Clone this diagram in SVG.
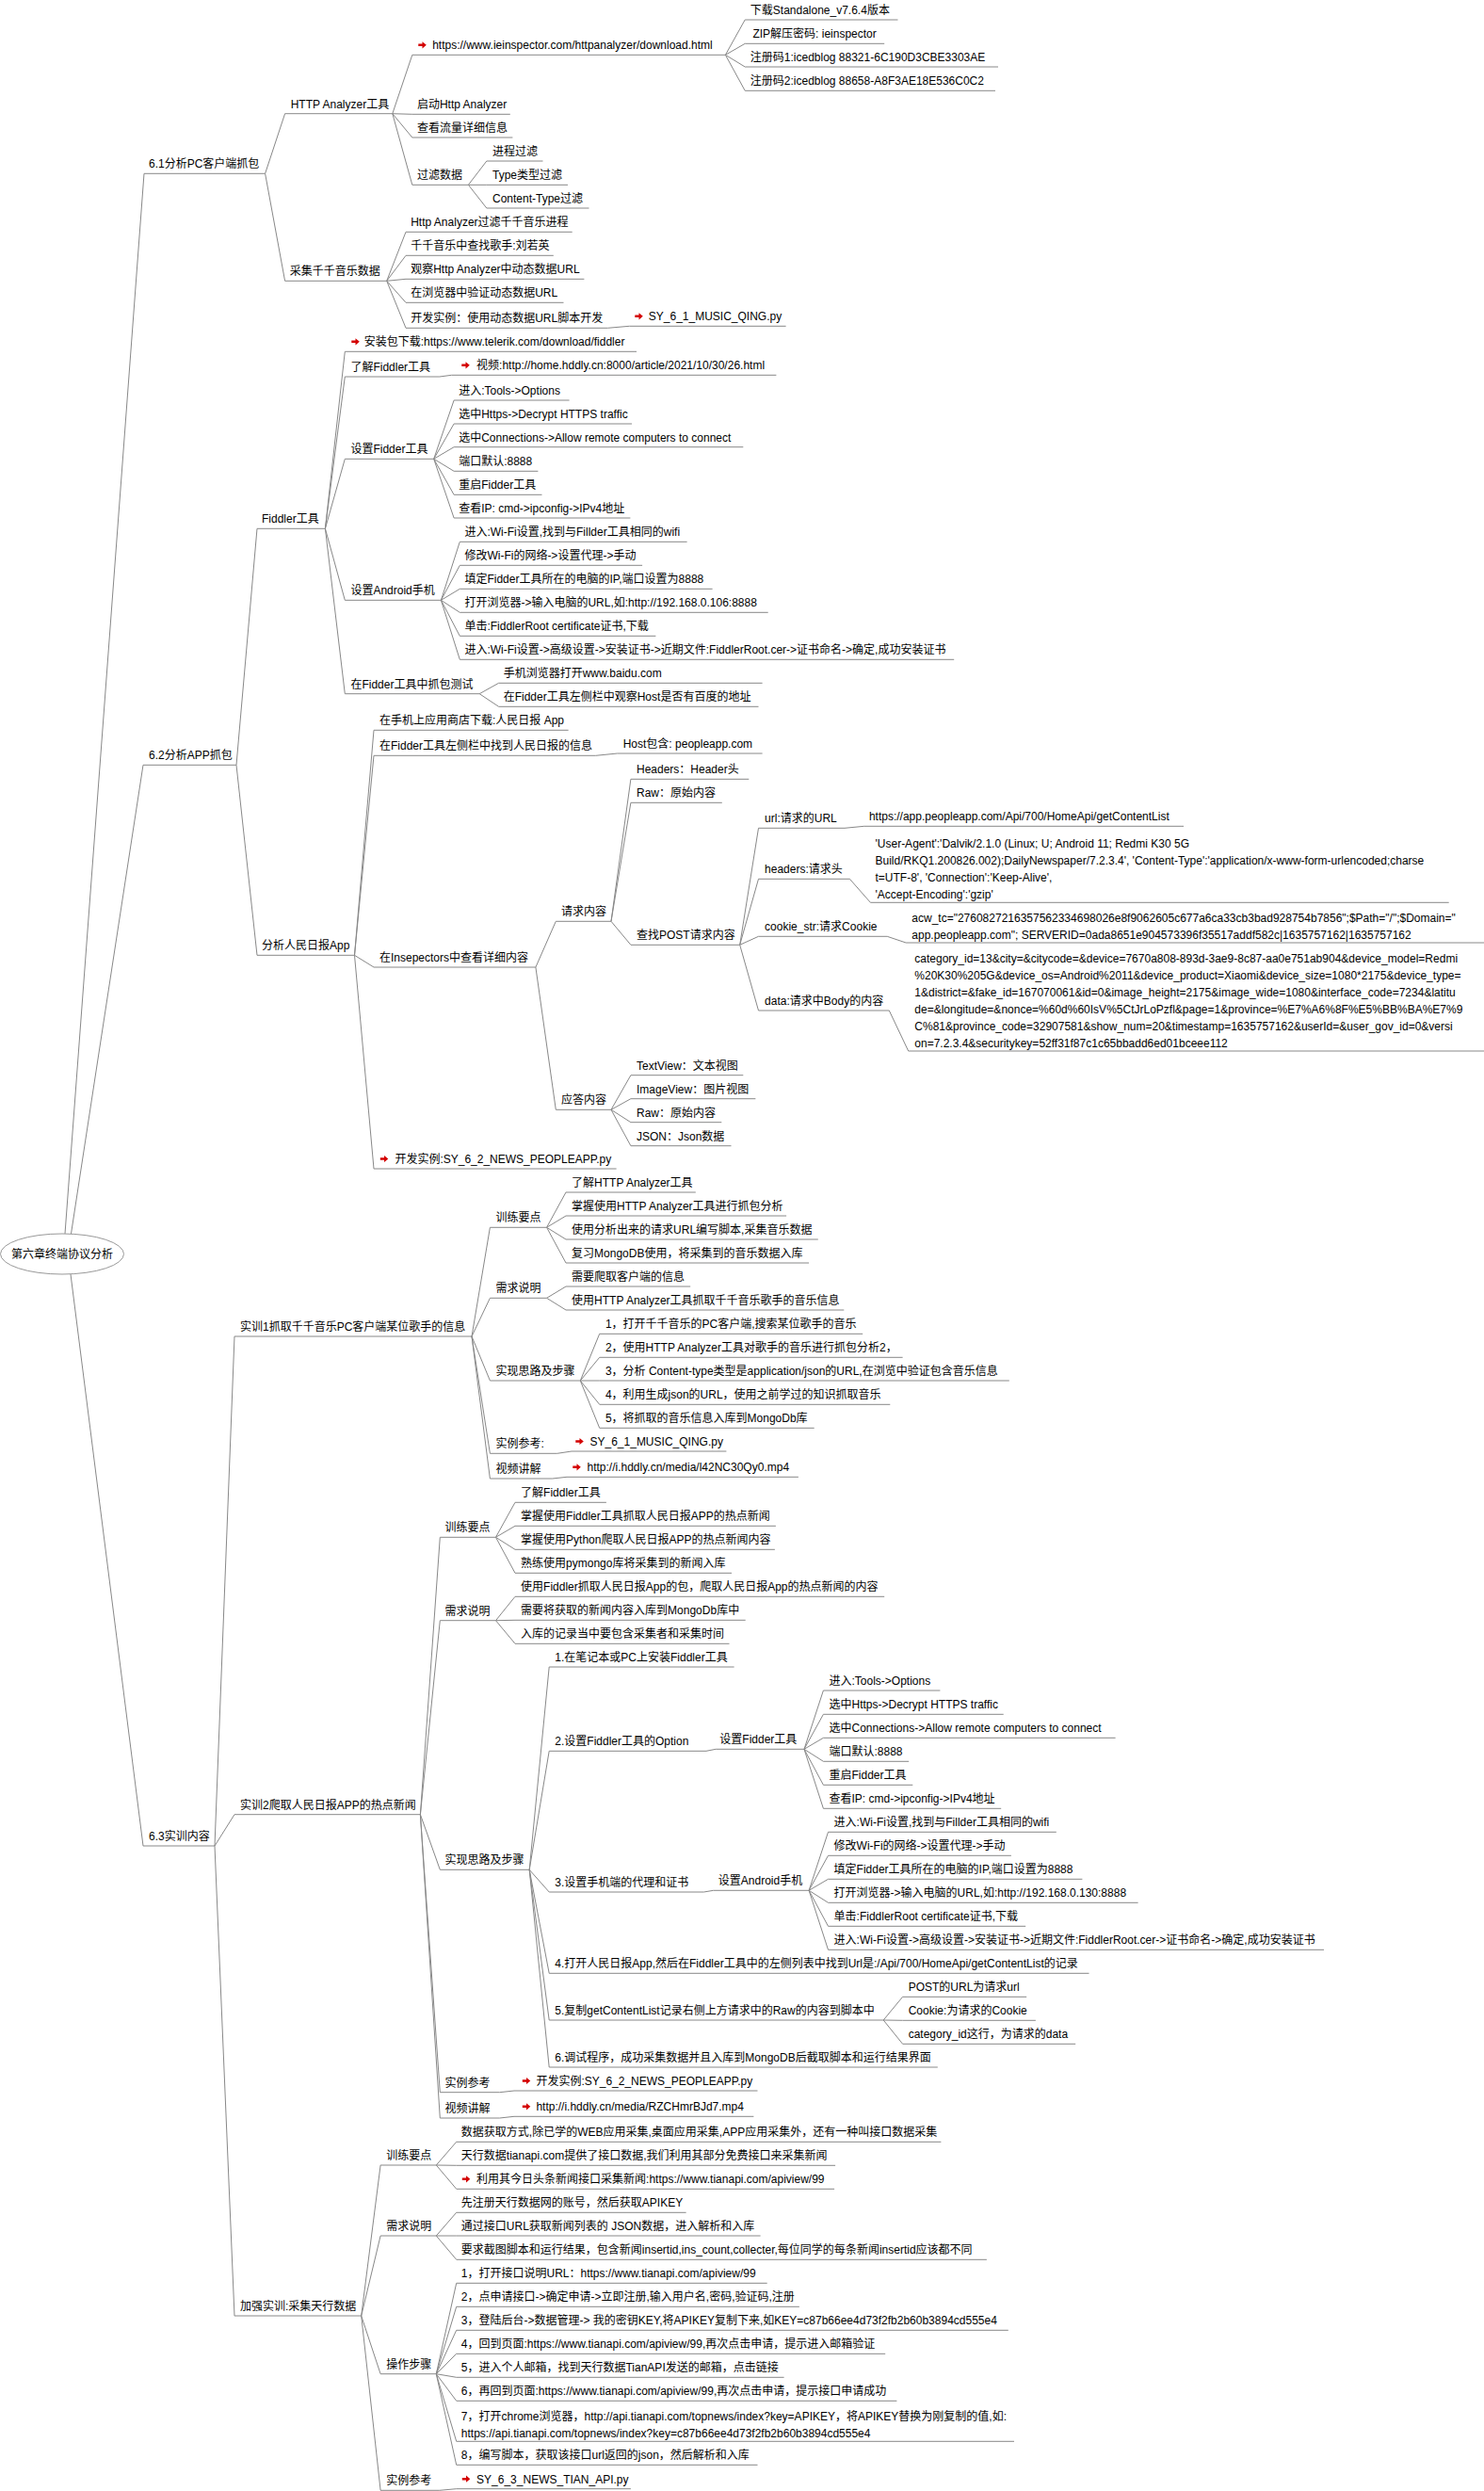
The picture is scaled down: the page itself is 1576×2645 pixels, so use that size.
<svg xmlns="http://www.w3.org/2000/svg" xmlns:xlink="http://www.w3.org/1999/xlink" width="1576" height="2645" viewBox="0 0 1576 2645">
<style>
.t{font-family:"Liberation Sans","Noto Sans CJK SC",sans-serif;font-size:12px;fill:#000}
.u{stroke:#888;stroke-width:1;fill:none}
.c{stroke:#888;stroke-width:1;fill:none}
</style>
<defs>
<path id="ar" d="M-4.2,-1.3H0V-3.6L4.3,0L0,3.6V1.3H-4.2Z" fill="#d40000"/>
</defs>
<rect width="1576" height="2645" fill="#fff"/>
<g id="connectors">
<path class="c" d="M69,1310L153,184.3M75.5,1310L152,812.3M75,1353L152,1960"/>
<path class="c" d="M281.6,184.3L302.6,120.7M281.6,184.3L302.6,298.3"/>
<path class="c" d="M416.8,120.7L437.8,58.3M416.8,120.7L437.8,121.3M416.8,120.7L437.8,146M416.8,120.7L437.8,196.3"/>
<path class="c" d="M770.4,58.3L791.2,21M770.4,58.3L791.2,46.3M770.4,58.3L791.2,71M770.4,58.3L791.2,96.3"/>
<path class="c" d="M497.4,196.3L516.8,171M497.4,196.3L516.8,196.3M497.4,196.3L516.8,221"/>
<path class="c" d="M410.7,298.3L431,246.3M410.7,298.3L431,271.3M410.7,298.3L431,296.3M410.7,298.3L431,321.3M410.7,298.3L431,348.3"/>
<path class="c" d="M645.4,348.3L668.4,346.3"/>
<path class="c" d="M251,812.3L273,561.3M251,812.3L273,1014.3"/>
<path class="c" d="M345.4,561.3L366.3,373.3M345.4,561.3L366.3,400M345.4,561.3L366.3,487.3M345.4,561.3L366.3,637.3M345.4,561.3L366.3,736.7"/>
<path class="c" d="M466.8,400L479.6,398.3"/>
<path class="c" d="M460.7,487.3L482.1,425M460.7,487.3L482.1,450M460.7,487.3L482.1,474.7M460.7,487.3L482.1,500.3M460.7,487.3L482.1,525.3M460.7,487.3L482.1,550"/>
<path class="c" d="M468.4,637.3L488.3,575.3M468.4,637.3L488.3,600.3M468.4,637.3L488.3,625.3M468.4,637.3L488.3,650.3M468.4,637.3L488.3,675.3M468.4,637.3L488.3,700.3"/>
<path class="c" d="M509.2,736.7L529.6,725.3M509.2,736.7L529.6,750.3"/>
<path class="c" d="M376.5,1014.3L397,775.3M376.5,1014.3L397,802.3M376.5,1014.3L397,1027M376.5,1014.3L397,1241"/>
<path class="c" d="M632.7,802.3L655.6,800"/>
<path class="c" d="M568.9,1027L590.3,978.3M568.9,1027L590.3,1178.3"/>
<path class="c" d="M649,978.3L669.9,827.3M649,978.3L669.9,852.3M649,978.3L669.9,1003.3"/>
<path class="c" d="M785.7,1003.3L805.5,879.3M785.7,1003.3L805.5,933.3M785.7,1003.3L805.5,994.3M785.7,1003.3L805.5,1073"/>
<path class="c" d="M897,879.3L917.8,877.3M902.4,933.3L924.4,958.3M942.2,994.3L962.1,1001M944.3,1073L964.7,1116"/>
<path class="c" d="M649,1178.3L669.9,1141.7M649,1178.3L669.9,1166.7M649,1178.3L669.9,1191.7M649,1178.3L669.9,1216.7"/>
<path class="c" d="M228,1960L249,1419M228,1960L249,1926.7M228,1960L249,2459"/>
<path class="c" d="M501,1419L520.4,1303.3M501,1419L520.4,1378.3M501,1419L520.4,1466M501,1419L520.4,1543.3M501,1419L520.4,1570"/>
<path class="c" d="M580.6,1303.3L601,1266M580.6,1303.3L601,1291M580.6,1303.3L601,1316M580.6,1303.3L601,1341"/>
<path class="c" d="M580.6,1378.3L601,1366M580.6,1378.3L601,1391"/>
<path class="c" d="M616.3,1466L636.7,1416.3M616.3,1466L636.7,1441.3M616.3,1466L636.7,1466M616.3,1466L636.7,1491.3M616.3,1466L636.7,1516.3"/>
<path class="c" d="M591.8,1543.3L607,1541M586.7,1570L602,1568.3"/>
<path class="c" d="M446.4,1926.7L467.3,1632.3M446.4,1926.7L467.3,1720.7M446.4,1926.7L467.3,1985.3M446.4,1926.7L467.3,2221.7M446.4,1926.7L467.3,2249"/>
<path class="c" d="M526.5,1632.3L547,1595.3M526.5,1632.3L547,1620.3M526.5,1632.3L547,1645.3M526.5,1632.3L547,1670.3"/>
<path class="c" d="M526.5,1720.7L547,1695.3M526.5,1720.7L547,1720.3M526.5,1720.7L547,1745.3"/>
<path class="c" d="M562.2,1985.3L583.2,1770M562.2,1985.3L583.2,1859.3M562.2,1985.3L583.2,2009M562.2,1985.3L583.2,2095.3M562.2,1985.3L583.2,2145M562.2,1985.3L583.2,2195"/>
<path class="c" d="M750,1859.3L760.2,1857.3M747.4,2009L757.7,2007.3"/>
<path class="c" d="M854,1857.3L874.4,1795M854,1857.3L874.4,1820.3M854,1857.3L874.4,1845.3M854,1857.3L874.4,1870.3M854,1857.3L874.4,1895.3M854,1857.3L874.4,1920.3"/>
<path class="c" d="M859.1,2007.3L879.5,1945.3M859.1,2007.3L879.5,1970.3M859.1,2007.3L879.5,1995.3M859.1,2007.3L879.5,2020.3M859.1,2007.3L879.5,2045.3M859.1,2007.3L879.5,2070.3"/>
<path class="c" d="M938.2,2145L958.6,2120.3M938.2,2145L958.6,2145.3M938.2,2145L958.6,2170.3"/>
<path class="c" d="M530.6,2221.7L546,2220M530.6,2249L546,2247.3"/>
<path class="c" d="M383.7,2459L404.1,2299M383.7,2459L404.1,2374M383.7,2459L404.1,2520.7M383.7,2459L404.1,2644.3"/>
<path class="c" d="M463.3,2299L484.7,2274.3M463.3,2299L484.7,2299.3M463.3,2299L484.7,2324.3"/>
<path class="c" d="M463.3,2374L484.7,2349.3M463.3,2374L484.7,2374M463.3,2374L484.7,2399.3"/>
<path class="c" d="M463.3,2520.7L484.7,2424.3M463.3,2520.7L484.7,2449.3M463.3,2520.7L484.7,2474.3M463.3,2520.7L484.7,2499.3M463.3,2520.7L484.7,2524.3M463.3,2520.7L484.7,2549.3M463.3,2520.7L484.7,2592.3M463.3,2520.7L484.7,2617.3"/>
<path class="c" d="M466.8,2644.3L484.7,2642.7"/>
</g>

<g id="root"><ellipse cx="66" cy="1331.5" rx="65.5" ry="21.5" fill="#fff" stroke="#999" stroke-width="1"/><text class="t" x="66" y="1336" text-anchor="middle">第六章终端协议分析</text></g>

<g id="n61"><path class="u" d="M153,184.3H281.6"/><text class="t" x="158" y="178.3">6.1分析PC客户端抓包</text></g>
<g id="n_httpa"><path class="u" d="M302.6,120.7H416.8"/><text class="t" x="308.7" y="114.7">HTTP Analyzer工具</text></g>
<g id="n_url1"><path class="u" d="M437.8,58.3H770.4"/><use xlink:href="#ar" x="448.5" y="47.8"/><text class="t" x="459.2" y="52.3">https://www.ieinspector.com/httpanalyzer/download.html</text></g>
<g id="n_dl"><path class="u" d="M791.2,21H953.5"/><text class="t" x="796.8" y="15">下载Standalone_v7.6.4版本</text></g>
<g id="n_zip"><path class="u" d="M791.2,46.3H939.2"/><text class="t" x="799.4" y="40.3">ZIP解压密码: ieinspector</text></g>
<g id="n_reg1"><path class="u" d="M791.2,71H1060"/><text class="t" x="796.8" y="65">注册码1:icedblog 88321-6C190D3CBE3303AE</text></g>
<g id="n_reg2"><path class="u" d="M791.2,96.3H1057"/><text class="t" x="796.8" y="90.3">注册码2:icedblog 88658-A8F3AE18E536C0C2</text></g>
<g id="n_start"><path class="u" d="M437.8,121.3H541.8"/><text class="t" x="442.9" y="115.3">启动Http Analyzer</text></g>
<g id="n_view"><path class="u" d="M437.8,146H544.4"/><text class="t" x="442.9" y="140">查看流量详细信息</text></g>
<g id="n_filter"><path class="u" d="M437.8,196.3H497.4"/><text class="t" x="442.9" y="190.3">过滤数据</text></g>
<g id="n_f1"><path class="u" d="M516.8,171H576.5"/><text class="t" x="523" y="165">进程过滤</text></g>
<g id="n_f2"><path class="u" d="M516.8,196.3H603"/><text class="t" x="523" y="190.3">Type类型过滤</text></g>
<g id="n_f3"><path class="u" d="M516.8,221H625.5"/><text class="t" x="523" y="215">Content-Type过滤</text></g>
<g id="n_collect"><path class="u" d="M302.6,298.3H410.7"/><text class="t" x="307.7" y="292.3">采集千千音乐数据</text></g>
<g id="n_c1"><path class="u" d="M431,246.3H607.7"/><text class="t" x="436.2" y="240.3">Http Analyzer过滤千千音乐进程</text></g>
<g id="n_c2"><path class="u" d="M431,271.3H587.8"/><text class="t" x="436.2" y="265.3">千千音乐中查找歌手:刘若英</text></g>
<g id="n_c3"><path class="u" d="M431,296.3H620.4"/><text class="t" x="436.2" y="290.3">观察Http Analyzer中动态数据URL</text></g>
<g id="n_c4"><path class="u" d="M431,321.3H598.5"/><text class="t" x="436.2" y="315.3">在浏览器中验证动态数据URL</text></g>
<g id="n_c5"><path class="u" d="M431,348.3H645.4"/><text class="t" x="436.2" y="342.3">开发实例：使用动态数据URL脚本开发</text></g>
<g id="n_c5a"><path class="u" d="M668.4,346.3H834.6"/><use xlink:href="#ar" x="678.5" y="335.8"/><text class="t" x="688.8" y="340.3">SY_6_1_MUSIC_QING.py</text></g>

<g id="n62"><path class="u" d="M152,812.3H251"/><text class="t" x="158" y="806.3">6.2分析APP抓包</text></g>
<g id="n_fid"><path class="u" d="M273,561.3H345.4"/><text class="t" x="278" y="555.3">Fiddler工具</text></g>
<g id="n_inst"><path class="u" d="M366.3,373.3H676"/><use xlink:href="#ar" x="377.5" y="362.8"/><text class="t" x="386.7" y="367.3">安装包下载:https://www.telerik.com/download/fiddler</text></g>
<g id="n_know"><path class="u" d="M366.3,400H466.8"/><text class="t" x="372.4" y="394">了解Fiddler工具</text></g>
<g id="n_video1"><path class="u" d="M479.6,398.3H824.4"/><use xlink:href="#ar" x="494.5" y="387.8"/><text class="t" x="506.1" y="392.3">视频:http://home.hddly.cn:8000/article/2021/10/30/26.html</text></g>
<g id="n_setf"><path class="u" d="M366.3,487.3H460.7"/><text class="t" x="372.4" y="481.3">设置Fidder工具</text></g>
<g id="n_sf1"><path class="u" d="M482.1,425H604.6"/><text class="t" x="487.2" y="419">进入:Tools-&gt;Options</text></g>
<g id="n_sf2"><path class="u" d="M482.1,450H671"/><text class="t" x="487.2" y="444">选中Https-&gt;Decrypt HTTPS traffic</text></g>
<g id="n_sf3"><path class="u" d="M482.1,474.7H789.3"/><text class="t" x="487.2" y="468.7">选中Connections-&gt;Allow remote computers to connect</text></g>
<g id="n_sf4"><path class="u" d="M482.1,500.3H571.4"/><text class="t" x="487.2" y="494.3">端口默认:8888</text></g>
<g id="n_sf5"><path class="u" d="M482.1,525.3H575.5"/><text class="t" x="487.2" y="519.3">重启Fidder工具</text></g>
<g id="n_sf6"><path class="u" d="M482.1,550H669.4"/><text class="t" x="487.2" y="544">查看IP: cmd-&gt;ipconfig-&gt;IPv4地址</text></g>
<g id="n_seta"><path class="u" d="M366.3,637.3H468.4"/><text class="t" x="372.4" y="631.3">设置Android手机</text></g>
<g id="n_sa1"><path class="u" d="M488.3,575.3H729.6"/><text class="t" x="493.4" y="569.3">进入:Wi-Fi设置,找到与Fillder工具相同的wifi</text></g>
<g id="n_sa2"><path class="u" d="M488.3,600.3H682.1"/><text class="t" x="493.4" y="594.3">修改Wi-Fi的网络-&gt;设置代理-&gt;手动</text></g>
<g id="n_sa3"><path class="u" d="M488.3,625.3H756.6"/><text class="t" x="493.4" y="619.3">填定Fidder工具所在的电脑的IP,端口设置为8888</text></g>
<g id="n_sa4"><path class="u" d="M488.3,650.3H815.7"/><text class="t" x="493.4" y="644.3">打开浏览器-&gt;输入电脑的URL,如:http://192.168.0.106:8888</text></g>
<g id="n_sa5"><path class="u" d="M488.3,675.3H696.4"/><text class="t" x="493.4" y="669.3">单击:FiddlerRoot certificate证书,下载</text></g>
<g id="n_sa6"><path class="u" d="M488.3,700.3H1013.2"/><text class="t" x="493.4" y="694.3">进入:Wi-Fi设置-&gt;高级设置-&gt;安装证书-&gt;近期文件:FiddlerRoot.cer-&gt;证书命名-&gt;确定,成功安装证书</text></g>
<g id="n_test"><path class="u" d="M366.3,736.7H509.2"/><text class="t" x="372.4" y="730.7">在Fidder工具中抓包测试</text></g>
<g id="n_t1"><path class="u" d="M529.6,725.3H809.6"/><text class="t" x="534.7" y="719.3">手机浏览器打开www.baidu.com</text></g>
<g id="n_t2"><path class="u" d="M529.6,750.3H805.5"/><text class="t" x="534.7" y="744.3">在Fidder工具左侧栏中观察Host是否有百度的地址</text></g>
<g id="n_rmrb"><path class="u" d="M273,1014.3H376.5"/><text class="t" x="278" y="1008.3">分析人民日报App</text></g>
<g id="n_r1"><path class="u" d="M397,775.3H603.6"/><text class="t" x="403" y="769.3">在手机上应用商店下载:人民日报 App</text></g>
<g id="n_r2"><path class="u" d="M397,802.3H632.7"/><text class="t" x="403" y="796.3">在Fidder工具左侧栏中找到人民日报的信息</text></g>
<g id="n_r2a"><path class="u" d="M655.6,800H809.6"/><text class="t" x="661.7" y="794">Host包含: peopleapp.com</text></g>
<g id="n_insp"><path class="u" d="M397,1027H568.9"/><text class="t" x="403" y="1021">在Insepectors中查看详细内容</text></g>
<g id="n_req"><path class="u" d="M590.3,978.3H649"/><text class="t" x="596" y="972.3">请求内容</text></g>
<g id="n_rq1"><path class="u" d="M669.9,827.3H795.3"/><text class="t" x="676" y="821.3">Headers：Header头</text></g>
<g id="n_rq2"><path class="u" d="M669.9,852.3H766.8"/><text class="t" x="676" y="846.3">Raw：原始内容</text></g>
<g id="n_post"><path class="u" d="M669.9,1003.3H785.7"/><text class="t" x="676" y="997.3">查找POST请求内容</text></g>
<g id="n_url"><path class="u" d="M805.5,879.3H897"/><text class="t" x="812.1" y="873.3">url:请求的URL</text></g>
<g id="n_urlv"><path class="u" d="M917.8,877.3H1257"/><text class="t" x="922.9" y="871.3">https://app.peopleapp.com/Api/700/HomeApi/getContentList</text></g>
<g id="n_hdr"><path class="u" d="M805.5,933.3H902.4"/><text class="t" x="812.1" y="927.3">headers:请求头</text></g>
<g id="n_hdrv"><path class="u" d="M924.4,958.3H1538.7"/><text class="t" x="929.5" y="899.7"><tspan x="929.5">'User-Agent':'Dalvik/2.1.0 (Linux; U; Android 11; Redmi K30 5G</tspan><tspan x="929.5" dy="18">Build/RKQ1.200826.002);DailyNewspaper/7.2.3.4',  'Content-Type':'application/x-www-form-urlencoded;charse</tspan><tspan x="929.5" dy="18">t=UTF-8',  'Connection':'Keep-Alive',</tspan><tspan x="929.5" dy="18">'Accept-Encoding':'gzip'</tspan></text></g>
<g id="n_ck"><path class="u" d="M805.5,994.3H942.2"/><text class="t" x="812.1" y="988.3">cookie_str:请求Cookie</text></g>
<g id="n_ckv"><path class="u" d="M962.1,1001H1576"/><text class="t" x="968.3" y="979"><tspan x="968.3">acw_tc="2760827216357562334698026e8f9062605c677a6ca33cb3bad928754b7856";$Path="/";$Domain="</tspan><tspan x="968.3" dy="18">app.peopleapp.com"; SERVERID=0ada8651e904573396f35517addf582c|1635757162|1635757162</tspan></text></g>
<g id="n_data"><path class="u" d="M805.5,1073H944.3"/><text class="t" x="812.1" y="1067">data:请求中Body的内容</text></g>
<g id="n_datav"><path class="u" d="M964.7,1116H1576"/><text class="t" x="971.3" y="1021.7"><tspan x="971.3">category_id=13&amp;city=&amp;citycode=&amp;device=7670a808-893d-3ae9-8c87-aa0e751ab904&amp;device_model=Redmi</tspan><tspan x="971.3" dy="18">%20K30%205G&amp;device_os=Android%2011&amp;device_product=Xiaomi&amp;device_size=1080*2175&amp;device_type=</tspan><tspan x="971.3" dy="18">1&amp;district=&amp;fake_id=167070061&amp;id=0&amp;image_height=2175&amp;image_wide=1080&amp;interface_code=7234&amp;latitu</tspan><tspan x="971.3" dy="18">de=&amp;longitude=&amp;nonce=%60d%60IsV%5CtJrLoPzfl&amp;page=1&amp;province=%E7%A6%8F%E5%BB%BA%E7%9</tspan><tspan x="971.3" dy="18">C%81&amp;province_code=32907581&amp;show_num=20&amp;timestamp=1635757162&amp;userId=&amp;user_gov_id=0&amp;versi</tspan><tspan x="971.3" dy="18">on=7.2.3.4&amp;securitykey=52ff31f87c1c65bbadd6ed01bceee112</tspan></text></g>
<g id="n_resp"><path class="u" d="M590.3,1178.3H649"/><text class="t" x="596" y="1172.3">应答内容</text></g>
<g id="n_rs1"><path class="u" d="M669.9,1141.7H789.3"/><text class="t" x="676" y="1135.7">TextView：文本视图</text></g>
<g id="n_rs2"><path class="u" d="M669.9,1166.7H802.4"/><text class="t" x="676" y="1160.7">ImageView：图片视图</text></g>
<g id="n_rs3"><path class="u" d="M669.9,1191.7H766.3"/><text class="t" x="676" y="1185.7">Raw：原始内容</text></g>
<g id="n_rs4"><path class="u" d="M669.9,1216.7H776.5"/><text class="t" x="676" y="1210.7">JSON：Json数据</text></g>
<g id="n_dev2"><path class="u" d="M397,1241H654.6"/><use xlink:href="#ar" x="408" y="1230.5"/><text class="t" x="419.4" y="1235">开发实例:SY_6_2_NEWS_PEOPLEAPP.py</text></g>

<g id="n63"><path class="u" d="M152,1960H228"/><text class="t" x="158" y="1954">6.3实训内容</text></g>
<g id="n_sx1"><path class="u" d="M249,1419H501"/><text class="t" x="255" y="1413">实训1抓取千千音乐PC客户端某位歌手的信息</text></g>
<g id="n_a_train"><path class="u" d="M520.4,1303.3H580.6"/><text class="t" x="526.5" y="1297.3">训练要点</text></g>
<g id="n_at1"><path class="u" d="M601,1266H738.8"/><text class="t" x="607.1" y="1260">了解HTTP Analyzer工具</text></g>
<g id="n_at2"><path class="u" d="M601,1291H835.1"/><text class="t" x="607.1" y="1285">掌握使用HTTP Analyzer工具进行抓包分析</text></g>
<g id="n_at3"><path class="u" d="M601,1316H868.8"/><text class="t" x="607.1" y="1310">使用分析出来的请求URL编写脚本,采集音乐数据</text></g>
<g id="n_at4"><path class="u" d="M601,1341H859.1"/><text class="t" x="607.1" y="1335">复习MongoDB使用，将采集到的音乐数据入库</text></g>
<g id="n_a_req"><path class="u" d="M520.4,1378.3H580.6"/><text class="t" x="526.5" y="1372.3">需求说明</text></g>
<g id="n_ar1"><path class="u" d="M601,1366H733.2"/><text class="t" x="607.1" y="1360">需要爬取客户端的信息</text></g>
<g id="n_ar2"><path class="u" d="M601,1391H896.3"/><text class="t" x="607.1" y="1385">使用HTTP Analyzer工具抓取千千音乐歌手的音乐信息</text></g>
<g id="n_a_step"><path class="u" d="M520.4,1466H616.3"/><text class="t" x="526.5" y="1460">实现思路及步骤</text></g>
<g id="n_as1"><path class="u" d="M636.7,1416.3H916.2"/><text class="t" x="642.9" y="1410.3">1，打开千千音乐的PC客户端,搜索某位歌手的音乐</text></g>
<g id="n_as2"><path class="u" d="M636.7,1441.3H958.6"/><text class="t" x="642.9" y="1435.3">2，使用HTTP Analyzer工具对歌手的音乐进行抓包分析2，</text></g>
<g id="n_as3"><path class="u" d="M636.7,1466H1071.8"/><text class="t" x="642.9" y="1460">3，分析 Content-type类型是application/json的URL,在浏览中验证包含音乐信息</text></g>
<g id="n_as4"><path class="u" d="M636.7,1491.3H945.3"/><text class="t" x="642.9" y="1485.3">4，利用生成json的URL，使用之前学过的知识抓取音乐</text></g>
<g id="n_as5"><path class="u" d="M636.7,1516.3H864.7"/><text class="t" x="642.9" y="1510.3">5，将抓取的音乐信息入库到MongoDb库</text></g>
<g id="n_a_ref"><path class="u" d="M520.4,1543.3H591.8"/><text class="t" x="526.5" y="1537.3">实例参考:</text></g>
<g id="n_a_refv"><path class="u" d="M607,1541H771.4"/><use xlink:href="#ar" x="615.5" y="1530.5"/><text class="t" x="626.5" y="1535">SY_6_1_MUSIC_QING.py</text></g>
<g id="n_a_vid"><path class="u" d="M520.4,1570H586.7"/><text class="t" x="526.5" y="1564">视频讲解</text></g>
<g id="n_a_vidv"><path class="u" d="M602,1568.3H847.9"/><use xlink:href="#ar" x="612.5" y="1557.8"/><text class="t" x="623.5" y="1562.3">http://i.hddly.cn/media/l42NC30Qy0.mp4</text></g>

<g id="n_sx2"><path class="u" d="M249,1926.7H446.4"/><text class="t" x="255" y="1920.7">实训2爬取人民日报APP的热点新闻</text></g>
<g id="n_b_train"><path class="u" d="M467.3,1632.3H526.5"/><text class="t" x="472.4" y="1626.3">训练要点</text></g>
<g id="n_bt1"><path class="u" d="M547,1595.3H643.9"/><text class="t" x="553.1" y="1589.3">了解Fiddler工具</text></g>
<g id="n_bt2"><path class="u" d="M547,1620.3H823.9"/><text class="t" x="553.1" y="1614.3">掌握使用Fiddler工具抓取人民日报APP的热点新闻</text></g>
<g id="n_bt3"><path class="u" d="M547,1645.3H822.9"/><text class="t" x="553.1" y="1639.3">掌握使用Python爬取人民日报APP的热点新闻内容</text></g>
<g id="n_bt4"><path class="u" d="M547,1670.3H777"/><text class="t" x="553.1" y="1664.3">熟练使用pymongo库将采集到的新闻入库</text></g>
<g id="n_b_req"><path class="u" d="M467.3,1720.7H526.5"/><text class="t" x="472.4" y="1714.7">需求说明</text></g>
<g id="n_br1"><path class="u" d="M547,1695.3H939.2"/><text class="t" x="553.1" y="1689.3">使用Fiddler抓取人民日报App的包，爬取人民日报App的热点新闻的内容</text></g>
<g id="n_br2"><path class="u" d="M547,1720.3H791.7"/><text class="t" x="553.1" y="1714.3">需要将获取的新闻内容入库到MongoDb库中</text></g>
<g id="n_br3"><path class="u" d="M547,1745.3H774.5"/><text class="t" x="553.1" y="1739.3">入库的记录当中要包含采集者和采集时间</text></g>
<g id="n_b_step"><path class="u" d="M467.3,1985.3H562.2"/><text class="t" x="472.4" y="1979.3">实现思路及步骤</text></g>
<g id="n_bs1"><path class="u" d="M583.2,1770H779.6"/><text class="t" x="589.3" y="1764">1.在笔记本或PC上安装Fiddler工具</text></g>
<g id="n_bs2"><path class="u" d="M583.2,1859.3H750"/><text class="t" x="589.3" y="1853.3">2.设置Fiddler工具的Option</text></g>
<g id="n_bs2a"><path class="u" d="M760.2,1857.3H854"/><text class="t" x="764.3" y="1851.3">设置Fidder工具</text></g>
<g id="n_bf1"><path class="u" d="M874.4,1795H998.4"/><text class="t" x="880.5" y="1789">进入:Tools-&gt;Options</text></g>
<g id="n_bf2"><path class="u" d="M874.4,1820.3H1065.7"/><text class="t" x="880.5" y="1814.3">选中Https-&gt;Decrypt HTTPS traffic</text></g>
<g id="n_bf3"><path class="u" d="M874.4,1845.3H1184.6"/><text class="t" x="880.5" y="1839.3">选中Connections-&gt;Allow remote computers to connect</text></g>
<g id="n_bf4"><path class="u" d="M874.4,1870.3H965.2"/><text class="t" x="880.5" y="1864.3">端口默认:8888</text></g>
<g id="n_bf5"><path class="u" d="M874.4,1895.3H969.3"/><text class="t" x="880.5" y="1889.3">重启Fidder工具</text></g>
<g id="n_bf6"><path class="u" d="M874.4,1920.3H1063.2"/><text class="t" x="880.5" y="1914.3">查看IP: cmd-&gt;ipconfig-&gt;IPv4地址</text></g>
<g id="n_bs3"><path class="u" d="M583.2,2009H747.4"/><text class="t" x="589.3" y="2003">3.设置手机端的代理和证书</text></g>
<g id="n_bs3a"><path class="u" d="M757.7,2007.3H859.1"/><text class="t" x="762.8" y="2001.3">设置Android手机</text></g>
<g id="n_ba1"><path class="u" d="M879.5,1945.3H1121.8"/><text class="t" x="885.6" y="1939.3">进入:Wi-Fi设置,找到与Fillder工具相同的wifi</text></g>
<g id="n_ba2"><path class="u" d="M879.5,1970.3H1073.9"/><text class="t" x="885.6" y="1964.3">修改Wi-Fi的网络-&gt;设置代理-&gt;手动</text></g>
<g id="n_ba3"><path class="u" d="M879.5,1995.3H1149.4"/><text class="t" x="885.6" y="1989.3">填定Fidder工具所在的电脑的IP,端口设置为8888</text></g>
<g id="n_ba4"><path class="u" d="M879.5,2020.3H1208.6"/><text class="t" x="885.6" y="2014.3">打开浏览器-&gt;输入电脑的URL,如:http://192.168.0.130:8888</text></g>
<g id="n_ba5"><path class="u" d="M879.5,2045.3H1089.2"/><text class="t" x="885.6" y="2039.3">单击:FiddlerRoot certificate证书,下载</text></g>
<g id="n_ba6"><path class="u" d="M879.5,2070.3H1406"/><text class="t" x="885.6" y="2064.3">进入:Wi-Fi设置-&gt;高级设置-&gt;安装证书-&gt;近期文件:FiddlerRoot.cer-&gt;证书命名-&gt;确定,成功安装证书</text></g>
<g id="n_bs4"><path class="u" d="M583.2,2095.3H1156.5"/><text class="t" x="589.3" y="2089.3">4.打开人民日报App,然后在Fiddler工具中的左侧列表中找到Url是:/Api/700/HomeApi/getContentList的记录</text></g>
<g id="n_bs5"><path class="u" d="M583.2,2145H938.2"/><text class="t" x="589.3" y="2139">5.复制getContentList记录右侧上方请求中的Raw的内容到脚本中</text></g>
<g id="n_bs5a"><path class="u" d="M958.6,2120.3H1090.2"/><text class="t" x="964.7" y="2114.3">POST的URL为请求url</text></g>
<g id="n_bs5b"><path class="u" d="M958.6,2145.3H1099.9"/><text class="t" x="964.7" y="2139.3">Cookie:为请求的Cookie</text></g>
<g id="n_bs5c"><path class="u" d="M958.6,2170.3H1142.2"/><text class="t" x="964.7" y="2164.3">category_id这行，为请求的data</text></g>
<g id="n_bs6"><path class="u" d="M583.2,2195H995.8"/><text class="t" x="589.3" y="2189">6.调试程序，成功采集数据并且入库到MongoDB后截取脚本和运行结果界面</text></g>
<g id="n_b_ref"><path class="u" d="M467.3,2221.7H530.6"/><text class="t" x="472.4" y="2215.7">实例参考</text></g>
<g id="n_b_refv"><path class="u" d="M546,2220H804.5"/><use xlink:href="#ar" x="559" y="2209.5"/><text class="t" x="569.4" y="2214">开发实例:SY_6_2_NEWS_PEOPLEAPP.py</text></g>
<g id="n_b_vid"><path class="u" d="M467.3,2249H530.6"/><text class="t" x="472.4" y="2243">视频讲解</text></g>
<g id="n_b_vidv"><path class="u" d="M546,2247.3H800.4"/><use xlink:href="#ar" x="559" y="2236.8"/><text class="t" x="569.4" y="2241.3">http://i.hddly.cn/media/RZCHmrBJd7.mp4</text></g>

<g id="n_sx3"><path class="u" d="M249,2459H383.7"/><text class="t" x="255" y="2453">加强实训:采集天行数据</text></g>
<g id="n_c_train"><path class="u" d="M404.1,2299H463.3"/><text class="t" x="410.2" y="2293">训练要点</text></g>
<g id="n_ct1"><path class="u" d="M484.7,2274.3H999.4"/><text class="t" x="489.8" y="2268.3">数据获取方式,除已学的WEB应用采集,桌面应用采集,APP应用采集外，还有一种叫接口数据采集</text></g>
<g id="n_ct2"><path class="u" d="M484.7,2299.3H887.1"/><text class="t" x="489.8" y="2293.3">天行数据tianapi.com提供了接口数据,我们利用其部分免费接口来采集新闻</text></g>
<g id="n_ct3"><path class="u" d="M484.7,2324.3H886.1"/><use xlink:href="#ar" x="495" y="2313.8"/><text class="t" x="506.1" y="2318.3">利用其今日头条新闻接口采集新闻:https://www.tianapi.com/apiview/99</text></g>
<g id="n_c_req"><path class="u" d="M404.1,2374H463.3"/><text class="t" x="410.2" y="2368">需求说明</text></g>
<g id="n_cr1"><path class="u" d="M484.7,2349.3H728.6"/><text class="t" x="489.8" y="2343.3">先注册天行数据网的账号，然后获取APIKEY</text></g>
<g id="n_cr2"><path class="u" d="M484.7,2374H807.6"/><text class="t" x="489.8" y="2368">通过接口URL获取新闻列表的 JSON数据，进入解析和入库</text></g>
<g id="n_cr3"><path class="u" d="M484.7,2399.3H1047.9"/><text class="t" x="489.8" y="2393.3">要求截图脚本和运行结果，包含新闻insertid,ins_count,collecter,每位同学的每条新闻insertid应该都不同</text></g>
<g id="n_c_step"><path class="u" d="M404.1,2520.7H463.3"/><text class="t" x="410.2" y="2514.7">操作步骤</text></g>
<g id="n_cs1"><path class="u" d="M484.7,2424.3H814.7"/><text class="t" x="489.8" y="2418.3">1，打开接口说明URL：https://www.tianapi.com/apiview/99</text></g>
<g id="n_cs2"><path class="u" d="M484.7,2449.3H848.9"/><text class="t" x="489.8" y="2443.3">2，点申请接口-&gt;确定申请-&gt;立即注册,输入用户名,密码,验证码,注册</text></g>
<g id="n_cs3"><path class="u" d="M484.7,2474.3H1070.8"/><text class="t" x="489.8" y="2468.3">3，登陆后台-&gt;数据管理-&gt; 我的密钥KEY,将APIKEY复制下来,如KEY=c87b66ee4d73f2fb2b60b3894cd555e4</text></g>
<g id="n_cs4"><path class="u" d="M484.7,2499.3H940.2"/><text class="t" x="489.8" y="2493.3">4，回到页面:https://www.tianapi.com/apiview/99,再次点击申请，提示进入邮箱验证</text></g>
<g id="n_cs5"><path class="u" d="M484.7,2524.3H832.6"/><text class="t" x="489.8" y="2518.3">5，进入个人邮箱，找到天行数据TianAPI发送的邮箱，点击链接</text></g>
<g id="n_cs6"><path class="u" d="M484.7,2549.3H952.4"/><text class="t" x="489.8" y="2543.3">6，再回到页面:https://www.tianapi.com/apiview/99,再次点击申请，提示接口申请成功</text></g>
<g id="n_cs7"><path class="u" d="M484.7,2592.3H1077"/><text class="t" x="489.8" y="2570"><tspan x="489.8">7，打开chrome浏览器，http://api.tianapi.com/topnews/index?key=APIKEY，将APIKEY替换为刚复制的值,如:</tspan><tspan x="489.8" dy="18">https://api.tianapi.com/topnews/index?key=c87b66ee4d73f2fb2b60b3894cd555e4</tspan></text></g>
<g id="n_cs8"><path class="u" d="M484.7,2617.3H804.5"/><text class="t" x="489.8" y="2611.3">8，编写脚本，获取该接口url返回的json，然后解析和入库</text></g>
<g id="n_c_ref"><path class="u" d="M404.1,2644.3H466.8"/><text class="t" x="410.2" y="2638.3">实例参考</text></g>
<g id="n_c_refv"><path class="u" d="M484.7,2642.7H669.9"/><use xlink:href="#ar" x="495" y="2632.2"/><text class="t" x="506.1" y="2636.7">SY_6_3_NEWS_TIAN_API.py</text></g>
</svg>
